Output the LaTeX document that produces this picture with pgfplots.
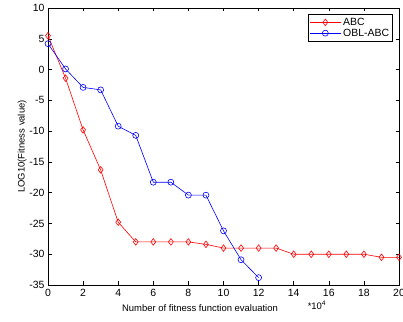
\documentclass[border=0pt]{standalone}
\usepackage{pgfplots}
\pgfplotsset{compat=1.18}
\usepackage{fontspec}
\setmainfont{Liberation Sans}
\begin{document}
\begin{tikzpicture}
\path[use as bounding box] (-48bp,-37bp) rectangle (355bp,285bp);
\begin{axis}[
  at={(0,0)}, anchor=south west,
  scale only axis, width=351bp, height=277bp,
  xmin=0, xmax=20, ymin=-35, ymax=10,
  xtick={0,2,...,20}, ytick={-35,-30,...,10},
  tick align=inside, major tick length=3.5bp,
  tick style={black, line width=0.5pt},
  axis line style={line width=0.8pt},
  tick label style={font=\fontsize{10.5}{12}\selectfont},
  xticklabel style={yshift=-1bp},
  /pgf/number format/assume math mode=true,
  xlabel={Number of fitness function evaluation},
  ylabel={LOG10(Fitness value)},
  label style={font=\fontsize{9.5}{11}\selectfont},
  xlabel style={at={(axis description cs:0.433,0)}, anchor=north, yshift=-16bp},
  ylabel style={at={(axis description cs:0,0.5)}, yshift=18bp},
  legend style={at={(axis description cs:0.983,0.978)}, anchor=north east, font=\fontsize{10.5}{12}\selectfont, draw=black, line width=0.8pt, inner sep=1.5pt, row sep=-2pt},
  legend cell align=left,
  legend image code/.code={\draw[mark repeat=2,mark phase=2] plot coordinates {(0cm,0cm) (0.55cm,0cm) (1.1cm,0cm)};},
  clip=false,
]
\addplot[red, line width=0.6pt, mark=diamond, mark size=3.3pt, mark options={solid, fill=none, line width=0.6pt}] coordinates {
(0,5.5) (1,-1.4) (2,-9.8) (3,-16.3) (4,-24.8) (5,-28.0) (6,-28.0) (7,-28.0) (8,-28.0) (9,-28.4) (10,-29.0) (11,-29.0) (12,-29.0) (13,-29.0) (14,-30.0) (15,-30.0) (16,-30.0) (17,-30.0) (18,-30.0) (19,-30.5) (20,-30.5)
};
\addlegendentry{ABC}
\addplot[blue, line width=0.6pt, mark=o, mark size=3pt, mark options={solid, line width=0.6pt}] coordinates {
(0,4.2) (1,0.1) (2,-2.9) (3,-3.3) (4,-9.2) (5,-10.7) (6,-18.3) (7,-18.3) (8,-20.4) (9,-20.4) (10,-26.2) (11,-30.9) (12,-33.8)
};
\addlegendentry{OBL-ABC}
\node[anchor=base west, font=\fontsize{9.5}{11}\selectfont] at (axis cs:14.6,-38.9) {*10\textsuperscript{4}};
\end{axis}
\end{tikzpicture}
\end{document}
